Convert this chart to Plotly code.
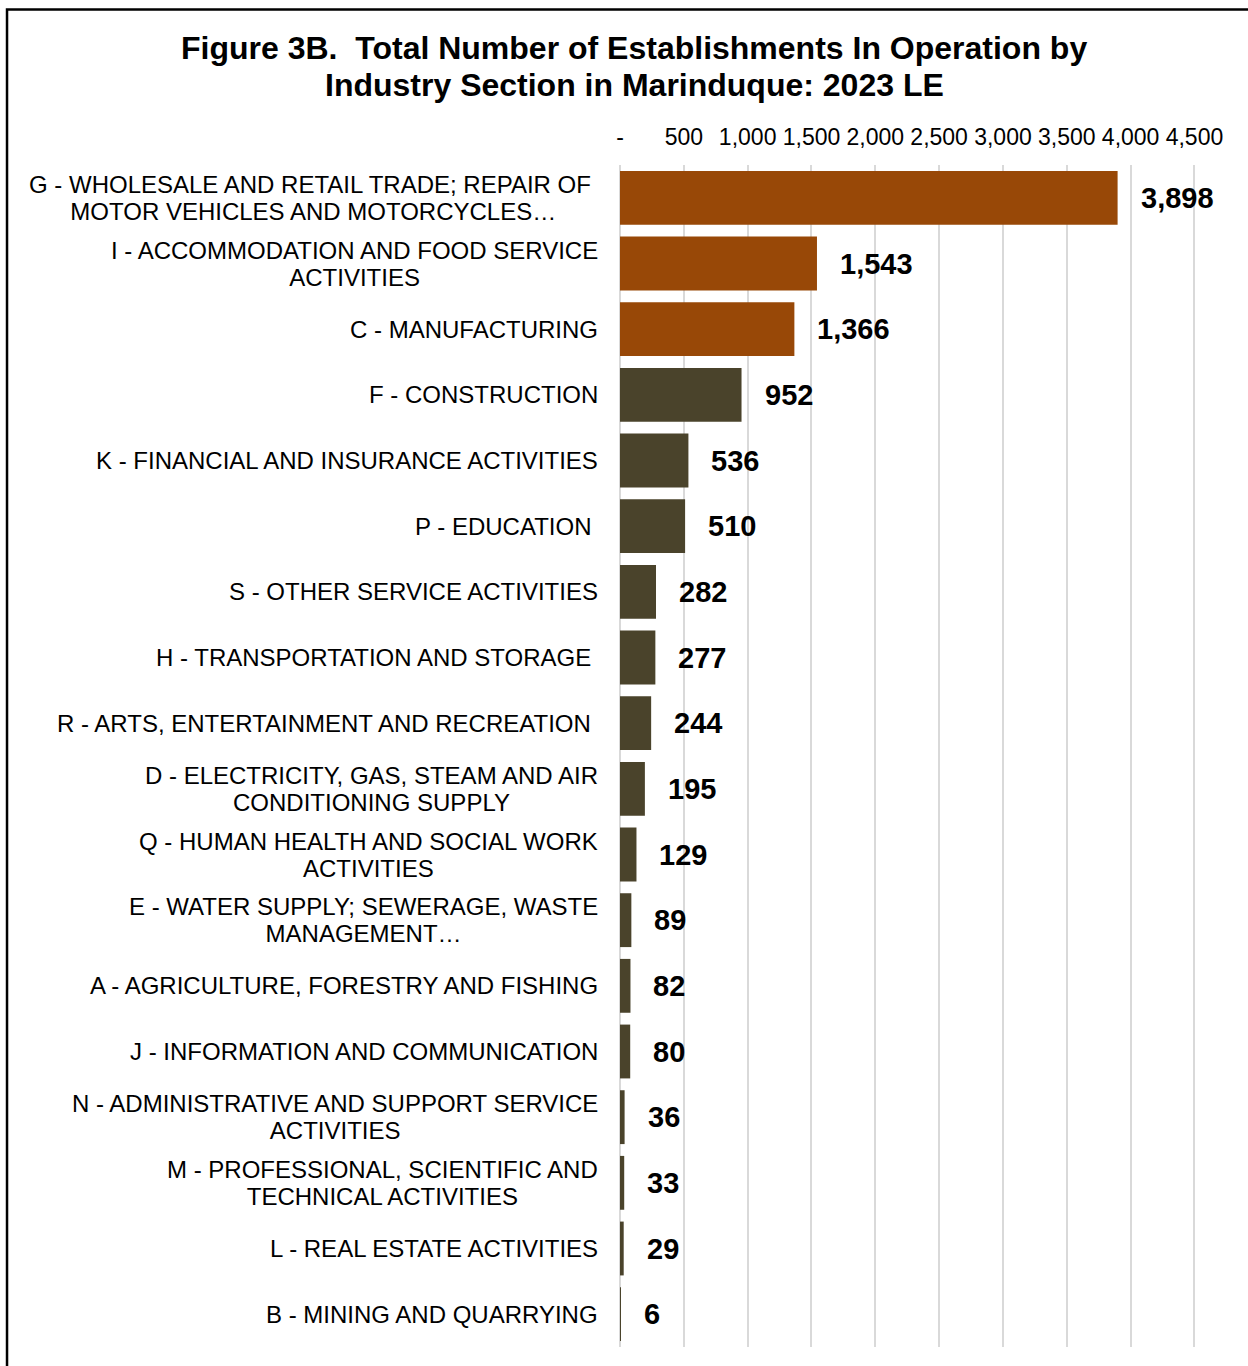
import plotly.graph_objects as go

# ---------------- data ----------------
sections = [
    "G - WHOLESALE AND RETAIL TRADE; REPAIR OF <br>MOTOR VEHICLES AND MOTORCYCLES…",
    "I - ACCOMMODATION AND FOOD SERVICE<br>ACTIVITIES",
    "C - MANUFACTURING",
    "F - CONSTRUCTION",
    "K - FINANCIAL AND INSURANCE ACTIVITIES",
    "P - EDUCATION ",
    "S - OTHER SERVICE ACTIVITIES",
    "H - TRANSPORTATION AND STORAGE ",
    "R - ARTS, ENTERTAINMENT AND RECREATION ",
    "D - ELECTRICITY, GAS, STEAM AND AIR<br>CONDITIONING SUPPLY",
    "Q - HUMAN HEALTH AND SOCIAL WORK<br>ACTIVITIES",
    "E - WATER SUPPLY; SEWERAGE, WASTE<br>MANAGEMENT…",
    "A - AGRICULTURE, FORESTRY AND FISHING",
    "J - INFORMATION AND COMMUNICATION",
    "N - ADMINISTRATIVE AND SUPPORT SERVICE<br>ACTIVITIES",
    "M - PROFESSIONAL, SCIENTIFIC AND<br>TECHNICAL ACTIVITIES",
    "L - REAL ESTATE ACTIVITIES",
    "B - MINING AND QUARRYING",
]
establishments = [3898, 1543, 1366, 952, 536, 510, 282, 277, 244, 195, 129, 89, 82, 80, 36, 33, 29, 6]

tick_values = [0, 500, 1000, 1500, 2000, 2500, 3000, 3500, 4000, 4500]
tick_labels = ["-", "500", "1,000", "1,500", "2,000", "2,500", "3,000", "3,500", "4,000", "4,500"]

title_lines = [
    "Figure 3B.&nbsp;&nbsp;Total Number of Establishments In Operation by",
    "Industry Section in Marinduque: 2023 LE",
]

# ---------------- styles ----------------
FONT = "Liberation Sans, Arial, sans-serif"
ORANGE = "#984807"
DARK = "#4A432B"
N_HIGHLIGHT = 3
bar_colors = [ORANGE if i < N_HIGHLIGHT else DARK for i in range(len(sections))]

W, H = 1248, 1366
X_MAX = 4520                      # a little past the last tick so its gridline shows
PX_PER_UNIT = 574 / 4500
ML, MT, MB = 620, 165, 19
plot_w = X_MAX * PX_PER_UNIT
MR = W - ML - plot_w
plot_h = H - MT - MB


def px_to_paper_x(px):
    return (px - ML) / plot_w


def px_to_paper_y(py):
    return (H - MB - py) / plot_h


fig = go.Figure()
fig.add_trace(go.Bar(
    x=establishments,
    y=sections,
    orientation="h",
    marker=dict(color=bar_colors, line=dict(width=0)),
    hoverinfo="x+y",
))

annotations = []
# title lines
for line, py in zip(title_lines, [48, 85]):
    annotations.append(dict(
        x=px_to_paper_x(634), xref="paper", y=px_to_paper_y(py), yref="paper",
        text=f"<b>{line}</b>", showarrow=False, xanchor="center", yanchor="middle",
        font=dict(family=FONT, size=32, color="#000000"),
    ))
# category labels (centered multi-line, right-anchored like Excel);
# base size sets the line spacing, inner span sets the glyph size
for s in sections:
    annotations.append(dict(
        x=0, xref="paper", y=s, yref="y",
        text=f"<span style='font-size:24px'>{s}</span>",
        showarrow=False, xanchor="right", yanchor="middle",
        align="center", xshift=-20,
        font=dict(family=FONT, size=21, color="#000000"),
    ))
# data labels
for s, v in zip(sections, establishments):
    annotations.append(dict(
        x=v, xref="x", y=s, yref="y",
        text=f"<b>{v:,}</b>", showarrow=False, xanchor="left", yanchor="middle",
        xshift=21,
        font=dict(family=FONT, size=29, color="#000000"),
    ))

fig.update_layout(
    width=W, height=H,
    margin=dict(l=ML, r=MR, t=MT, b=MB, pad=0),
    paper_bgcolor="white", plot_bgcolor="white",
    showlegend=False,
    bargap=0.18,
    xaxis=dict(
        side="top",
        range=[0, X_MAX],
        tickvals=tick_values, ticktext=tick_labels,
        showgrid=True, gridcolor="#D9D9D9", gridwidth=2,
        zeroline=True, zerolinecolor="#D9D9D9", zerolinewidth=2,
        showline=False, ticks="",
        ticklabelstandoff=14,
        tickfont=dict(family=FONT, size=23, color="#000000"),
        fixedrange=True,
    ),
    yaxis=dict(
        categoryorder="array", categoryarray=sections,
        autorange="reversed",
        showticklabels=False, showgrid=False, zeroline=False, showline=False,
        fixedrange=True,
    ),
    annotations=annotations,
    shapes=[dict(
        type="rect", xref="paper", yref="paper",
        x0=px_to_paper_x(7.5), x1=1.5, y0=-0.5, y1=px_to_paper_y(9.5),
        line=dict(color="#000000", width=2.5), fillcolor="rgba(0,0,0,0)",
        layer="above",
    )],
)

fig.write_html(
    "out.html",
    config={"displayModeBar": False},
    post_script="document.body.style.margin='0';",
)
